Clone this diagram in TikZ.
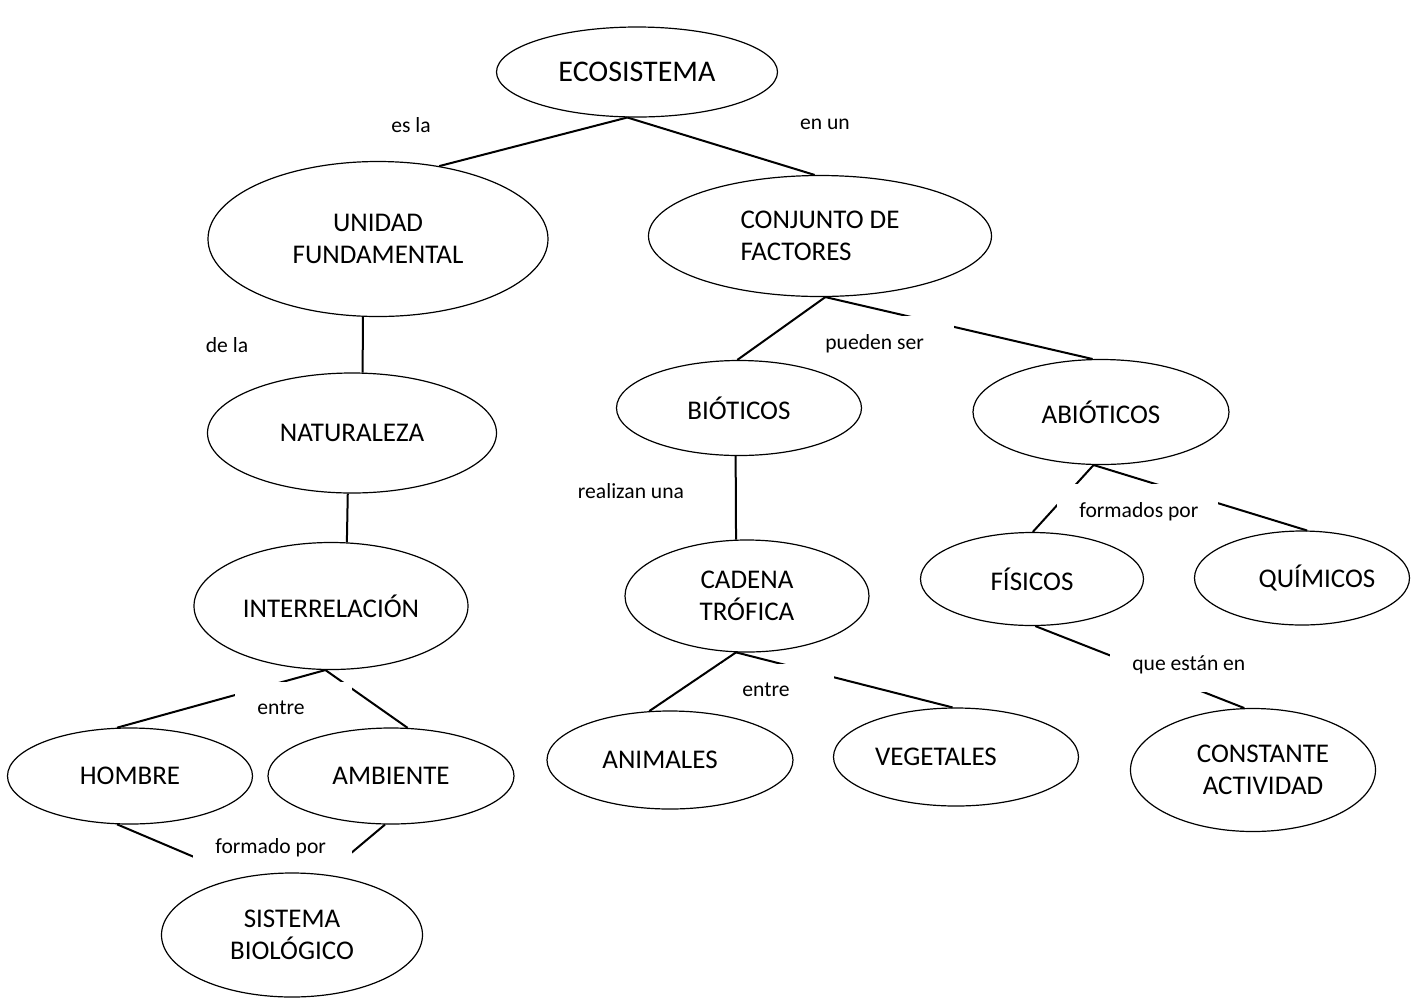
\documentclass[tikz,border=0pt]{standalone}
\usepackage{fontspec}
\setmainfont{Carlito}
\usetikzlibrary{shapes.geometric}
\pgfdeclarelayer{fondo}
\pgfsetlayers{fondo,main}
\tikzset{
  elipse/.style={draw, ellipse, line width=0.6pt, inner sep=0pt, font=\fontsize{13.5}{16}\selectfont},
  linea/.style={line width=1pt},
  etiq/.style={fill=white, anchor=north west, inner xsep=11pt, inner ysep=9pt, font=\fontsize{10.8}{12}\selectfont},
  rotulo/.style={font=\fontsize{10.8}{12}\selectfont},
}
\newcommand*{\caja}[2]{\makebox[#1][l]{#2}}

\begin{document}
\begin{tikzpicture}[x=0.5pt, y=-0.5pt]
    \useasboundingbox (0,0) rectangle (1421,998);
    % conceptos
    \node[elipse, minimum width=140.5pt, minimum height=45pt, font=\fontsize{15}{18}\selectfont] (eco) at (637,72) {ECOSISTEMA};
    \node[elipse, minimum width=170pt, minimum height=77.5pt, align=center] (unidad) at (378,239) {UNIDAD\\FUNDAMENTAL};
    \node[elipse, minimum width=171.5pt, minimum height=60.5pt, align=left] (conjunto) at (820,236) {CONJUNTO DE\\FACTORES};
    \node[elipse, minimum width=144.5pt, minimum height=60pt] (naturaleza) at (352,433) {NATURALEZA};
    \node[elipse, minimum width=122.5pt, minimum height=47.5pt] (bioticos) at (739,408) {BIÓTICOS};
    \node[elipse, minimum width=128pt, minimum height=52.5pt] (abioticos) at (1101,412) {ABIÓTICOS};
    \node[elipse, minimum width=137pt, minimum height=63.5pt] (interrel) at (331,606) {INTERRELACIÓN};
    \node[elipse, minimum width=122pt, minimum height=56pt, align=center] (cadena) at (747,596) {CADENA\\TRÓFICA};
    \node[elipse, minimum width=111.5pt, minimum height=46.5pt] (fisicos) at (1032,579) {FÍSICOS};
    \node[elipse, minimum width=107.5pt, minimum height=47pt] (quimicos) at (1302,578) {\hspace*{15pt}QUÍMICOS};
    \node[elipse, minimum width=122.5pt, minimum height=48pt] (hombre) at (130,776) {HOMBRE};
    \node[elipse, minimum width=123pt, minimum height=48pt] (ambiente) at (391,776) {AMBIENTE};
    \node[elipse, minimum width=123pt, minimum height=49pt] (animales) at (670,760) {ANIMALES\hspace*{10pt}};
    \node[elipse, minimum width=122.5pt, minimum height=49pt] (vegetales) at (956,757) {VEGETALES\hspace*{20pt}};
    \node[elipse, minimum width=122.5pt, minimum height=61.5pt, align=center] (constante) at (1253,770) {\hspace*{10pt}CONSTANTE\\\hspace*{10pt}ACTIVIDAD};
    \node[elipse, minimum width=130.5pt, minimum height=62pt, align=center] (sistema) at (292,935) {SISTEMA\\BIOLÓGICO};
    % palabras de enlace sueltas
    \node[rotulo] (esla) at (411,125) {es la};
    \node[rotulo] (enun) at (825,124) {en un};
    \node[rotulo] (dela) at (227,345) {de la};
    \node[rotulo] (realizan) at (631,491) {realizan una};
    \begin{pgfonlayer}{fondo}
        % uniones
        \draw[linea] (eco.258) -- (unidad.50);
        \draw[linea] (eco.258) -- (conjunto.95);
        \draw[linea] (unidad.259) -- (naturaleza.80);
        \draw[linea] (naturaleza.266) -- (interrel.76);
        \draw[linea] (conjunto.275) -- (bioticos.92);
        \draw[linea] (conjunto.275) -- (abioticos.99);
        \draw[linea] (bioticos.266) -- (cadena.101);
        \draw[linea] (abioticos.262) -- (fisicos.89);
        \draw[linea] (abioticos.262) -- (quimicos.84);
        \draw[linea] (fisicos.274) -- (constante.98);
        \draw[linea] (interrel.265) -- (hombre.105);
        \draw[linea] (interrel.265) -- (ambiente.71);
        \draw[linea] (cadena.259) -- (animales.113);
        \draw[linea] (cadena.259) -- (vegetales.94);
        \draw[linea] (hombre.255) -- (sistema.131);
        \draw[linea] (ambiente.263) -- (sistema.61);
        % palabras de enlace sobre las uniones
        \node[etiq] (pueden) at (803,316) {\caja{53.5pt}{pueden ser}};
        \node[etiq] (formados) at (1057,484) {\caja{58.5pt}{formados por}};
        \node[etiq] (estan) at (1110,637) {\caja{62pt}{que están en}};
        \node[etiq] (entreA) at (235,682) {\caja{36.5pt}{entre}};
        \node[etiq] (entreB) at (720,664) {\caja{35pt}{entre}};
        \node[etiq, text depth=9pt] (formado) at (193,820) {\caja{57.5pt}{formado por}};
    \end{pgfonlayer}
\end{tikzpicture}
\end{document}
